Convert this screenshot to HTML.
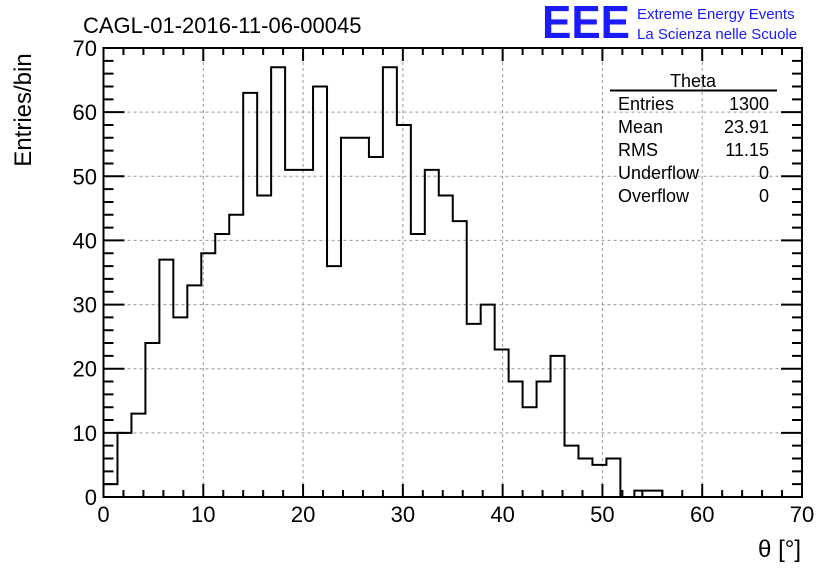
<!DOCTYPE html>
<html><head><meta charset="utf-8"><style>
body{margin:0;background:#fff;}
svg text{font-family:"Liberation Sans",sans-serif;}
</style></head><body>
<svg width="836" height="572" viewBox="0 0 836 572">
<rect width="836" height="572" fill="#fff"/>
<g id="grid"></g>
<g id="ticks"></g>
<path id="hist" fill="none" stroke="#000" stroke-width="2"/>
<rect x="103.5" y="48" width="698.5" height="449" fill="none" stroke="#000" stroke-width="2"/>
<g id="labels"></g>
<text x="83" y="33" font-size="22">CAGL-01-2016-11-06-00045</text>
<text x="542" y="38" font-size="46" fill="#1a1aff" font-weight="bold" textLength="88" lengthAdjust="spacingAndGlyphs">EEE</text>
<text x="637" y="19" font-size="15" fill="#1a1aff">Extreme Energy Events</text>
<text x="637" y="39" font-size="15" fill="#1a1aff">La Scienza nelle Scuole</text>
<text transform="translate(31,110) rotate(-90)" font-size="24" text-anchor="middle">Entries/bin</text>
<text x="801" y="557" font-size="24" text-anchor="end">θ [°]</text>
<g font-size="18">
<text x="693" y="87" text-anchor="middle">Theta</text>
<line x1="610" y1="90.5" x2="777" y2="90.5" stroke="#000" stroke-width="2"/>
<text x="618" y="110">Entries</text><text x="769" y="110" text-anchor="end">1300</text>
<text x="618" y="133">Mean</text><text x="769" y="133" text-anchor="end">23.91</text>
<text x="618" y="156">RMS</text><text x="769" y="156" text-anchor="end">11.15</text>
<text x="618" y="179">Underflow</text><text x="769" y="179" text-anchor="end">0</text>
<text x="618" y="202">Overflow</text><text x="769" y="202" text-anchor="end">0</text>
</g>
</svg>
<script>
const counts=[2,10,13,24,37,28,33,38,41,44,63,47,67,51,51,64,36,56,56,53,67,58,41,51,47,43,27,30,23,18,14,18,22,8,6,5,6,0,1,1,0,0,0,0,0,0,0,0,0,0];
const binWidth=1.4;
const xTicks=[0,10,20,30,40,50,60,70];
const yTicks=[0,10,20,30,40,50,60,70];
const X0=103.5,X1=802,Y0=497,Y1=48;
const sx=v=>X0+(v-0)/(70-0)*(X1-X0);
const sy=v=>Y0-(v-0)/(70-0)*(Y0-Y1);
const NS='http://www.w3.org/2000/svg';
function mk(t,a,p){const e=document.createElementNS(NS,t);for(const k in a)e.setAttribute(k,a[k]);p.appendChild(e);return e;}
const grid=document.getElementById('grid'),ticks=document.getElementById('ticks'),labels=document.getElementById('labels');
xTicks.forEach(v=>{
 if(v>0&&v<70){const l=mk('line',{x1:sx(v),y1:Y0,x2:sx(v),y2:Y1,stroke:'#999','stroke-dasharray':'3,3','stroke-width':1},grid);
 }
 const t=mk('text',{x:sx(v),y:522,'font-size':22,'text-anchor':'middle'},labels);t.textContent=v;
 
});
yTicks.forEach(v=>{
 if(v>0&&v<70){const l=mk('line',{x1:X0,y1:sy(v),x2:X1,y2:sy(v),stroke:'#999','stroke-dasharray':'3,3','stroke-width':1},grid);
 }
 const t=mk('text',{x:97,y:sy(v)+8,'font-size':22,'text-anchor':'end'},labels);t.textContent=v;
 
});
let d='';
for(let v=0;v<=70;v+=2){const major=v%10===0;const len=major?13:7;const x=sx(v);
 d+=`M${x},${Y0}v${-len}M${x},${Y1}v${len}`;}
for(let v=0;v<=70;v+=2){const major=v%10===0;const len=major?21:10;const y=sy(v);
 d+=`M${X0},${y}h${len}M${X1},${y}h${-len}`;}
const tp=mk('path',{d:d,stroke:'#000','stroke-width':2,fill:'none'},ticks);

let h=`M${sx(0)},${sy(0)}`;
counts.forEach((c,i)=>{h+=`V${sy(c)}H${sx((i+1)*binWidth)}`;});
h+=`V${sy(0)}`;
document.getElementById('hist').setAttribute('d',h);
</script>
</body></html>
